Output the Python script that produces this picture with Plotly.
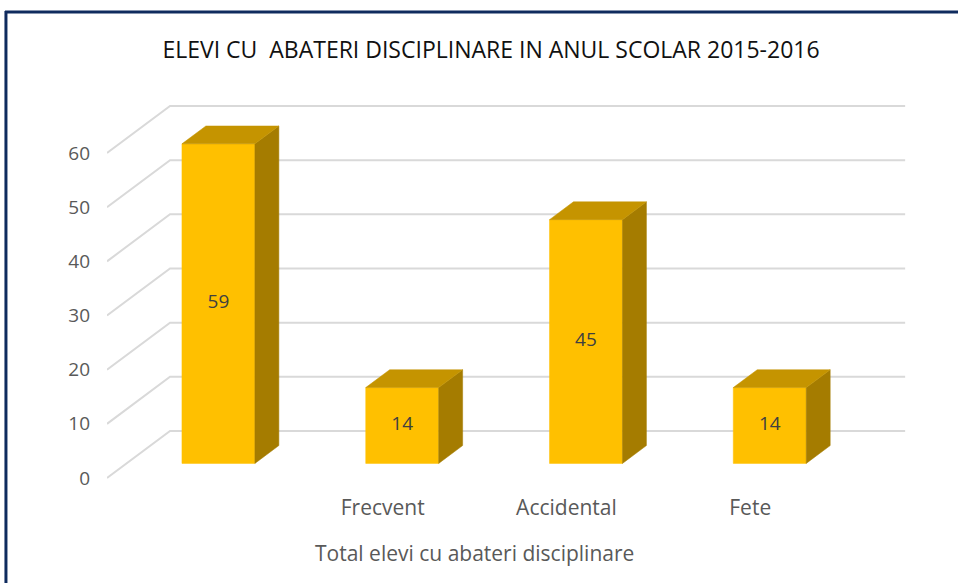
import plotly.graph_objects as go

# ---- data ----
categories = ["", "Frecvent", "Accidental", "Fete"]
values = [59, 14, 45, 14]
value_labels = ["59", "14", "45", "14"]
y_ticks = [0, 10, 20, 30, 40, 50, 60]
chart_title = "ELEVI CU\u00a0 ABATERI DISCIPLINARE IN ANUL SCOLAR 2015-2016"
x_axis_title = "Total elevi cu abateri disciplinare"

# ---- style / 3D projection parameters ----
FRONT = "#FFC000"
TOP = "#C59400"
SIDE = "#A57C00"
GRID = "#D9D9D9"
FONT = "Open Sans"
DX = 0.343      # depth offset along x (category units) for full depth
DY = 8.68       # depth offset along y (value units) for full depth
W = 0.397       # bar width
D1, D2 = 0.31, 0.69  # bar depth span (fraction of full depth)

fig = go.Figure()

# back wall gridlines and left wall diagonals
gx, gy = [], []
x0, x1 = -0.5, len(categories) - 0.5
for v in y_ticks:
    gx += [x0, x0 + DX, x1 + DX, None]
    gy += [v, v + DY, v + DY, None]
fig.add_trace(go.Scatter(x=gx, y=gy, mode="lines",
                         line=dict(color=GRID, width=2),
                         hoverinfo="skip", showlegend=False))

ox = (D2 - D1) * DX
oy = (D2 - D1) * DY
for i, v in enumerate(values):
    xl = i - W / 2 + D1 * DX
    xr = xl + W
    yb = D1 * DY
    yt = v + D1 * DY
    # front face
    fig.add_trace(go.Scatter(x=[xl, xr, xr, xl, xl], y=[yb, yb, yt, yt, yb],
                             fill="toself", fillcolor=FRONT, mode="lines",
                             line=dict(color=FRONT, width=0.5),
                             hoverinfo="skip", showlegend=False))
    # side face
    fig.add_trace(go.Scatter(x=[xr, xr + ox, xr + ox, xr, xr],
                             y=[yb, yb + oy, yt + oy, yt, yb],
                             fill="toself", fillcolor=SIDE, mode="lines",
                             line=dict(color=SIDE, width=0.5),
                             hoverinfo="skip", showlegend=False))
    # top face
    fig.add_trace(go.Scatter(x=[xl, xl + ox, xr + ox, xr, xl],
                             y=[yt, yt + oy, yt + oy, yt, yt],
                             fill="toself", fillcolor=TOP, mode="lines",
                             line=dict(color=TOP, width=0.5),
                             hoverinfo="skip", showlegend=False))
    # value label
    fig.add_trace(go.Scatter(x=[(xl + xr) / 2], y=[(yb + yt) / 2],
                             mode="text", text=[value_labels[i]],
                             textfont=dict(family=FONT, size=19, color="#404040"),
                             hoverinfo="skip", showlegend=False))

# layout geometry
T, B = 90, 490
fig.update_layout(
    width=958, height=583,
    margin=dict(l=107, r=24.4, t=T, b=583 - B),
    paper_bgcolor="white", plot_bgcolor="rgba(0,0,0,0)",
    title=dict(text=chart_title, x=491 / 958, xanchor="center",
               y=1 - 50 / 583, yanchor="middle", yref="container",
               font=dict(family=FONT, size=23, color="#111111")),
    xaxis=dict(range=[-0.5, 4.0], tickvals=list(range(len(categories))),
               ticktext=categories, showgrid=False, zeroline=False,
               showline=False, ticks="", ticklabelstandoff=3,
               tickfont=dict(family=FONT, size=21, color="#595959"),
               fixedrange=True),
    yaxis=dict(range=[-(B - 478) / 5.4167, 60 + (153 - T) / 5.4167],
               tickvals=y_ticks, showgrid=False, zeroline=False,
               showline=False, ticks="", ticklabelstandoff=16,
               tickfont=dict(family=FONT, size=19, color="#595959"),
               fixedrange=True),
    annotations=[dict(text=x_axis_title, x=1.5, xref="x",
                      y=(B - 553) / (B - T), yref="paper",
                      xanchor="center", yanchor="middle", showarrow=False,
                      font=dict(family=FONT, size=21, color="#595959"))],
    shapes=[
        dict(type="line", xref="paper", yref="paper",
             x0=(5 - 107) / 826.6, x1=(958 - 107) / 826.6,
             y0=(B - 12) / (B - T), y1=(B - 12) / (B - T),
             line=dict(color="#0F2B5E", width=3)),
        dict(type="line", xref="paper", yref="paper",
             x0=(6 - 107) / 826.6, x1=(6 - 107) / 826.6,
             y0=(B - 11) / (B - T), y1=(B - 583) / (B - T),
             line=dict(color="#0F2B5E", width=3)),
    ],
)

fig.write_html("out.html", config={"displayModeBar": False},
               post_script="document.body.style.margin='0';")
